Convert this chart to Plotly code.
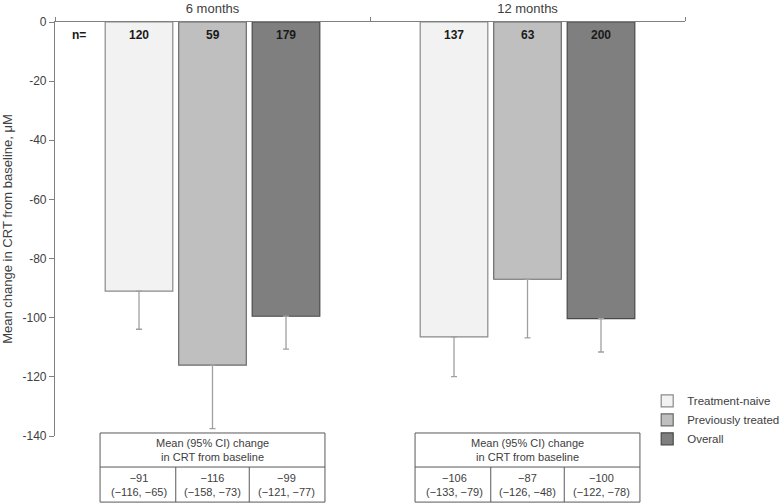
import plotly.graph_objects as go

timepoints = ["6 months", "12 months"]
series_names = ["Treatment-naive", "Previously treated", "Overall"]

naive_mean = [-91, -106.5]
prev_mean = [-116, -87]
overall_mean = [-99.5, -100.3]

naive_err = [12.9, 13.4]
prev_err = [21.5, 19.8]
overall_err = [11.1, 11.3]

naive_n = [120, 137]
prev_n = [59, 63]
overall_n = [179, 200]

table_header = "Mean (95% CI) change<br>in CRT from baseline"
table_6m = ["−91<br>(−116, −65)", "−116<br>(−158, −73)", "−99<br>(−121, −77)"]
table_12m = ["−106<br>(−133, −79)", "−87<br>(−126, −48)", "−100<br>(−122, −78)"]

y_ticks = [0, -20, -40, -60, -80, -100, -120, -140]
y_tick_labels = ["0", "-20", "-40", "-60", "-80", "-100", "-120", "-140"]

fill_colors = ["#f2f2f2", "#bfbfbf", "#7f7f7f"]
line_colors = ["#8a8a8a", "#6a6a6a", "#4a4a4a"]

FONT = "Liberation Sans, Arial, sans-serif"
TXT = "#404040"

means = [naive_mean, prev_mean, overall_mean]
errs = [naive_err, prev_err, overall_err]
ns = [naive_n, prev_n, overall_n]
tables = [table_6m, table_12m]

bargap = 0.3
groupgap = 0.08
slot = (1 - bargap) / 3

fig = go.Figure()
for k in range(3):
    fig.add_trace(go.Bar(
        x=timepoints, y=means[k], name=series_names[k],
        marker=dict(color=fill_colors[k], line=dict(color=line_colors[k], width=1.2)),
        error_y=dict(type="data", symmetric=False, array=[0] * len(timepoints),
                     arrayminus=errs[k], color="#a0a0a0", thickness=1.3, width=3),
    ))

annotations = []
# n= labels
annotations.append(dict(x=-0.423, y=0, xref="x", yref="y", yshift=-12.5,
                        text="<b>n=</b>", showarrow=False,
                        font=dict(family=FONT, size=12, color="#1a1a1a")))
for i in range(len(timepoints)):
    for k in range(3):
        annotations.append(dict(x=i + (k - 1) * slot, y=0, xref="x", yref="y", yshift=-12.5,
                                text="<b>%d</b>" % ns[k][i], showarrow=False,
                                font=dict(family=FONT, size=12, color="#1a1a1a")))

# tables below the plot
plot_h = 413.5
t_top = 3 / plot_h
t_mid = -31 / plot_h
t_bot = -66 / plot_h
half = slot * 1.53
shapes = []
for i in range(len(timepoints)):
    lc = dict(color="#595959", width=1)
    shapes.append(dict(type="rect", xref="x", yref="paper", x0=i - half, x1=i + half,
                       y0=t_bot, y1=t_top, line=lc, layer="above"))
    shapes.append(dict(type="line", xref="x", yref="paper", x0=i - half, x1=i + half,
                       y0=t_mid, y1=t_mid, line=lc))
    for d in (-0.5, 0.5):
        shapes.append(dict(type="line", xref="x", yref="paper", x0=i + d * slot, x1=i + d * slot,
                           y0=t_bot, y1=t_mid, line=lc))
    annotations.append(dict(x=i, y=(t_top + t_mid) / 2, xref="x", yref="paper",
                            text=table_header, showarrow=False, yanchor="middle",
                            font=dict(family=FONT, size=11, color=TXT)))
    for k in range(3):
        annotations.append(dict(x=i + (k - 1) * slot, y=(t_mid + t_bot) / 2, xref="x", yref="paper",
                                text=tables[i][k], showarrow=False, yanchor="middle",
                                font=dict(family=FONT, size=11, color=TXT)))

fig.update_layout(
    width=784, height=504,
    margin=dict(l=55, r=99, t=22, b=68, pad=0, autoexpand=False),
    paper_bgcolor="white", plot_bgcolor="white",
    barmode="group", bargap=bargap, bargroupgap=groupgap,
    font=dict(family=FONT, size=12, color=TXT),
    showlegend=True,
    legend=dict(x=0.94, y=0.12, xanchor="left", yanchor="top",
                font=dict(family=FONT, size=11.5, color=TXT),
                bgcolor="rgba(0,0,0,0)", tracegroupgap=0, itemwidth=30),
    annotations=annotations, shapes=shapes,
)
fig.update_xaxes(
    type="category", side="top", showline=True, linecolor="#808080", linewidth=1.2,
    ticks="outside", tickson="boundaries", ticklen=4, tickcolor="#808080",
    tickfont=dict(family=FONT, size=13, color=TXT), showgrid=False, zeroline=False,
    range=[-0.5, 1.5], automargin=False, ticklabelstandoff=3,
)
fig.update_yaxes(
    range=[-140, 0], tickmode="array", tickvals=y_ticks, ticktext=y_tick_labels,
    showline=True, linecolor="#808080", linewidth=1.2, ticks="outside", ticklen=5,
    tickcolor="#808080", tickfont=dict(family=FONT, size=12, color=TXT),
    showgrid=False, zeroline=False, automargin=False,
    title=dict(text="Mean change in CRT from baseline, μM", font=dict(family=FONT, size=13, color=TXT),
               standoff=6),
)

fig.write_html("out.html", config={"displayModeBar": False},
               post_script="document.body.style.margin='0';document.body.style.overflow='hidden';")
